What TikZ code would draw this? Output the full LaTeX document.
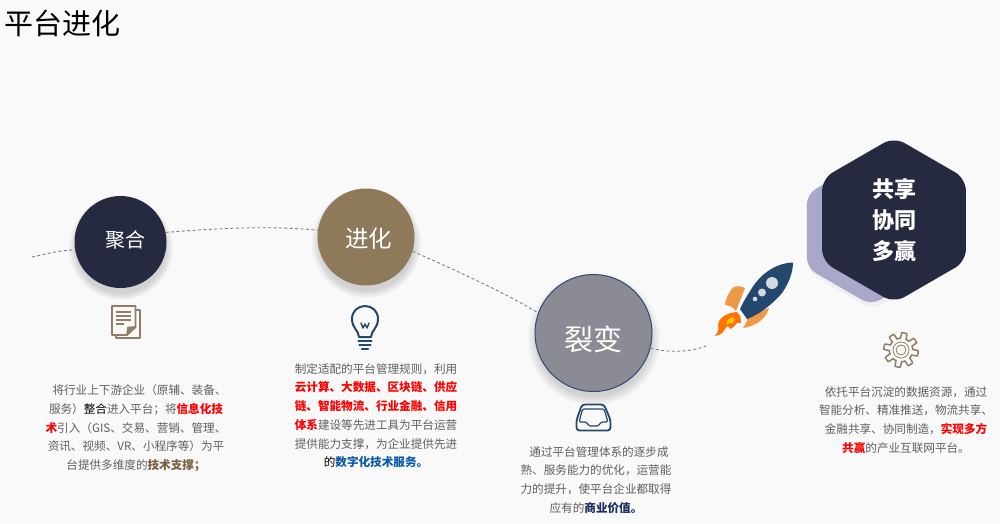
\documentclass[tikz,border=0pt]{standalone}
\usepackage{fontspec}
\setmainfont{Noto Sans CJK SC}
\usetikzlibrary{shapes.geometric,shadows}
\definecolor{pagebg}{HTML}{F9F9F9}
\definecolor{navyfill}{HTML}{262A40}
\definecolor{brownfill}{HTML}{8E7A5B}
\definecolor{greyfill}{HTML}{8B8B96}
\definecolor{ringblue}{HTML}{2F4A73}
\definecolor{lilacfill}{HTML}{A9A8C8}
\definecolor{iconbrown}{HTML}{8F7D66}
\definecolor{iconblue}{HTML}{24476E}
\definecolor{bodygrey}{HTML}{5F5F5F}
\definecolor{keyblue}{HTML}{0B5AA8}
\definecolor{keynavy}{HTML}{1B2F5E}
\definecolor{keybrown}{HTML}{76603F}
\newcommand{\keyred}[1]{\textcolor{red}{\bfseries #1}}
\tikzset{
  stagecircle/.style={shape=circle,inner sep=0pt,text=white,
    circular drop shadow={shadow xshift=0pt,shadow yshift=-5pt,shadow scale=1.14,opacity=0.32}},
  bodytext/.style={anchor=north,align=center,text=bodygrey,inner sep=0pt,
    font=\fontsize{11.6}{18.75}\selectfont},
  pathdash/.style={draw=gray,dash pattern=on 3pt off 2.4pt,line width=0.9pt},
  iconline/.style={line width=1.6pt,line join=round,line cap=round}
}
\begin{document}
\begin{tikzpicture}[x=1pt,y=-1pt]
\useasboundingbox[fill=pagebg] (0,0) rectangle (1000,523);
\node (title) at (4,23) [anchor=west,inner sep=0pt,font=\fontsize{29}{32}\selectfont] {平台进化};
%% back hexagon first
\node (hexback) at (871,231) [shape=regular polygon,regular polygon sides=6,shape border rotate=30,
  minimum size=148pt,inner sep=0pt,rounded corners=10pt,fill=lilacfill,
  drop shadow={shadow xshift=2pt,shadow yshift=-5pt,opacity=0.08}] {};
%% stages
\node (juhe) at (120.5,242) [stagecircle,minimum size=92pt,fill=navyfill,text height=17pt,text depth=6pt,
  font=\fontsize{20}{24}\selectfont] {\hspace*{10pt}聚合};
\node (jinhua) at (366,237) [stagecircle,minimum size=97pt,fill=brownfill,text height=24pt,text depth=2.5pt,
  font=\fontsize{23.5}{26}\selectfont] {\hspace*{5pt}进化};
\node (liebian) at (593.5,333) [stagecircle,minimum size=117pt,fill=greyfill,draw=ringblue,line width=1pt,
  text height=37pt,text depth=3pt,font=\fontsize{29}{32}\selectfont] {裂变};
\node (hexfront) at (894,220) [shape=regular polygon,regular polygon sides=6,shape border rotate=30,
  minimum size=166pt,inner sep=0pt,rounded corners=12pt,fill=navyfill,text=white,align=center,
  font=\bfseries\fontsize{22}{31}\selectfont] {共享\\协同\\多赢};
%% dashed path
\coordinate (trailstart) at (32,257);
\coordinate (trailend) at (706,346);
\path[pathdash] (trailstart) .. controls (46,254) and (60,250) .. (juhe.190);
\path[pathdash] (juhe.12) .. controls (210,229) and (265,225) .. (jinhua.172);
\path[pathdash] (jinhua.343) .. controls (450,268) and (500,290) .. (liebian.160);
\path[pathdash] (liebian.345) .. controls (670,353) and (690,352) .. (trailend);
%% document icon
\begin{scope}[draw=iconbrown,iconline]
  \draw[fill=pagebg] (116,310) -- (140,310) -- (140,338) -- (116,338) -- cycle;
  \draw[fill=pagebg] (112,306) -- (135.5,306) -- (135.5,327) -- (127,335) -- (112,335) -- cycle;
  \draw[fill=iconbrown] (135.5,327) -- (128,327.5) -- (127,335) -- cycle;
  \foreach \y/\xend in {312/131,316/131,320/131,324/124}
    \draw[line width=1.4pt,line cap=butt] (115.5,\y) -- (\xend,\y);
\end{scope}
%% bulb icon
\begin{scope}[draw=iconblue,iconline]
  \draw[line width=2pt] (359,337) .. controls (359,331) and (352,328) .. (352,319)
    .. controls (352,311) and (358,306) .. (365,306)
    .. controls (372,306) and (378,311) .. (378,319)
    .. controls (378,328) and (371,331) .. (371,337) -- cycle;
  \draw[line width=1.4pt] (361,323) -- (363,328) -- (365,324) -- (367,328) -- (369,323);
  \foreach \y/\w in {341/6.5,345/5.5,349/3}
    \draw[line width=2.2pt] (365-\w,\y) -- (365+\w,\y);
\end{scope}
%% tray icon
\begin{scope}[draw=iconblue,iconline,line width=1.8pt,rounded corners=3pt]
  \draw (582,404.5) -- (604,404.5) -- (610.5,420) -- (610.5,430.5) -- (576.5,430.5) -- (576.5,420) -- cycle;
\end{scope}
\begin{scope}[draw=iconblue,iconline,line width=1.2pt,rounded corners=1.5pt]
  \draw (579,422) -- (582.5,409) -- (604,409) -- (608,422) -- (601,422) -- (598.5,426) -- (589,426) -- (586.5,422) -- cycle;
\end{scope}
%% rocket
\fill[orange!65!brown!80!white] (745,288) .. controls (738,285) and (733,286) .. (731,290)
  .. controls (727,296) and (725,301) .. (725,305) .. controls (729,305) and (733,307) .. (736,311) -- cycle;
\fill[orange!65!brown!80!white] (769,308) .. controls (766,318) and (757,326) .. (743,328)
  .. controls (747,322) and (748,319) .. (747,316) -- cycle;
\fill[orange!90!red] (737,312) .. controls (741,316) and (741,320) .. (741,323)
  .. controls (738,322) and (736,323) .. (735,325) .. controls (734,327) and (732,328) .. (730,329)
  .. controls (729,325) and (727,326) .. (725,329) .. controls (723,333) and (720,335) .. (715,336)
  .. controls (719,331) and (719,327) .. (718,325) .. controls (718,320) and (724,313) .. (737,312) -- cycle;
\fill[yellow!60!orange] (733,317) .. controls (735,319) and (735,321) .. (733,323)
  .. controls (730,322) and (728,324) .. (726,325) .. controls (726,321) and (729,318) .. (733,317) -- cycle;
\fill[iconblue] (793,262.5) .. controls (775,263) and (760,275) .. (752,288)
  .. controls (747,296) and (743,302) .. (740,309) -- (747,319)
  .. controls (758,315) and (772,305) .. (782,293) .. controls (789,283) and (793,272) .. (793,262.5) -- cycle;
\foreach \x/\y/\r in {772/283/6,762/292.5/4,755/299/2.3}
  \fill[white!80!iconblue] (\x,\y) circle (\r);
%% gear icon
\begin{scope}[shift={(901,350)},draw=iconbrown]
  \draw[line width=1.5pt] plot[domain=0:360,samples=241]
    ({cos(\x)*(14.5+2.8*max(min(3*sin(8*\x),1),-1))},{sin(\x)*(14.5+2.8*max(min(3*sin(8*\x),1),-1))}) -- cycle;
  \draw[line width=0.8pt] (0,0) circle (8);
  \draw[line width=0.8pt] (0,0) circle (5);
\end{scope}
%% texts
\node (juhetext) at (136,384.5) [bodytext] {\hspace*{7pt}将行业上下游企业（原辅、装备、\\
  服务）\textcolor{black}{整合}进入平台；将\keyred{信息化技}\\
  \keyred{术}引入（GIS、交易、营销、管理、\\
  资讯、视频、VR、小程序等）为平\\
  台提供多维度的\textcolor{keybrown}{\bfseries 技术支撑；}};
\node (jinhuatext) at (376,363) [bodytext] {制定适配的平台管理规则，利用\\
  \keyred{云计算、大数据、区块链、供应}\\
  \keyred{链、智能物流、行业金融、信用}\\
  \keyred{体系}建设等先进工具为平台运营\\
  提供能力支撑，为企业提供先进\\
  \textcolor{black}{的}\textcolor{keyblue}{\bfseries 数字化技术服务。}};
\node (liebiantext) at (596,446) [bodytext] {\hspace*{6pt}通过平台管理体系的逐步成\\
  熟、服务能力的优化，运营能\\
  力的提升，使平台企业都取得\\
  应有的\textcolor{keynavy}{\bfseries 商业价值。}};
\node (gongxiangtext) at (906,386) [bodytext] {依托平台沉淀的数据资源，通过\\
  智能分析、精准推送，物流共享、\\
  金融共享、协同制造，\keyred{实现多方}\\
  \keyred{共赢}的产业互联网平台。};
\end{tikzpicture}
\end{document}
